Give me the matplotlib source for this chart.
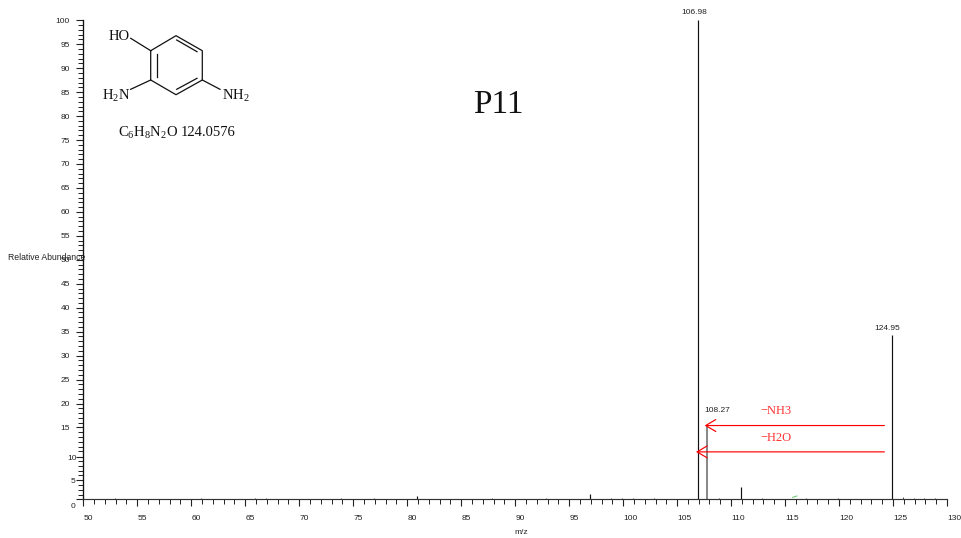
import matplotlib
matplotlib.use("Agg")
import matplotlib.pyplot as plt
from matplotlib.lines import Line2D
from matplotlib.transforms import ScaledTranslation

plt.rcParams['font.family'] = ['Liberation Sans', 'DejaVu Sans']
plt.rcParams['mathtext.fontset'] = 'custom'
plt.rcParams['mathtext.rm'] = 'Liberation Serif'

W, H = 961, 538
DPI = 100

# Peaks
mz = [106.9, 107.8, 124.88, 110.9, 96.97, 80.9]
intensity = [100, 15.5, 34.2, 2.6, 1.1, 0.7]
peak_labels = {106.9: ("106.98", -3.5, 7.5), 107.8: ("108.27", 9.5, 14.5), 124.88: ("124.95", -4.5, 6.5)}
noise_mz = [52.9, 60.9, 65.9, 66.9, 73.9, 76.9, 87.9, 92.9, 98.9, 99.9, 100.9, 102.9,
            108.9, 112.9, 116.9, 119.9, 125.9, 126.9, 127.9, 128.9]
noise_int = [0.3, 0.2, 0.3, 0.3, 0.2, 0.2, 0.2, 0.2, 0.3, 0.2, 0.3, 0.3,
             0.3, 0.2, 0.3, 0.2, 0.4, 0.3, 0.3, 0.3]
green_mz = [115.7, 116.1]
green_int = [0.4, 0.7]

# Axes ticks
x_major = list(range(50, 131, 5))
x_minor = list(range(50, 131))
y_major = [0, 4, 8.8, 15, 20, 25, 30, 35, 40, 45, 50, 55, 60, 65, 70, 75, 80, 85, 90, 95, 100]
y_labels = ['0', '5', '10', '15', '20', '25', '30', '35', '40', '45', '50', '55', '60',
            '65', '70', '75', '80', '85', '90', '95', '100']
y_minor = [v for v in range(0, 101) if min(abs(v - m) for m in y_major) > 0.5]

# Neutral-loss arrows: (label, y, start m/z, tip m/z, label m/z, label y)
losses = [("\u2212NH3", 15.4, 124.2, 107.55, 112.75, 18.4),
          ("\u2212H2O", 9.9, 124.2, 106.75, 112.75, 12.8)]

# Molecule, in reference pixels
ring = [(150.7, 50.7), (176, 35.7), (202.3, 50.7), (202.3, 80), (176, 94.7), (150.7, 80), (150.7, 50.7)]
bonds = [[(150.7, 50.7), (130.7, 38.3)], [(150.7, 80), (130.7, 89.3)], [(202.3, 80), (220, 89.3)],
         [(156.7, 54), (156.7, 77)], [(176.7, 40), (197, 51.7)], [(176.7, 89.3), (197, 78.3)]]
mol_text = [("HO", 119, 37), ("H$_2$N", 116.5, 95.5), ("NH$_2$", 236, 95.5)]
formula = "C$_6$H$_8$N$_2$O"
formula_mass = "124.0576"

fig = plt.figure(figsize=(W / DPI, H / DPI), dpi=DPI, facecolor='white')
left, right, top, bottom = 83.3, 947, 20.3, 499.3
ax = fig.add_axes([left / W, 1 - bottom / H, (right - left) / W, (bottom - top) / H])
ax.set_xlim(50, 130)
ax.set_ylim(0, 100)
for s in ('top', 'right'):
    ax.spines[s].set_visible(False)
ax.spines['left'].set_linewidth(0.95)
ax.spines['bottom'].set_linewidth(0.85)
ax.spines['left'].set_color('#111111')
ax.spines['bottom'].set_color('#333333')

ax.vlines(noise_mz, 0, noise_int, color='#333333', lw=0.6)
ax.vlines(mz[:1] + mz[2:], 0, intensity[:1] + intensity[2:], color='#111111', lw=0.85, clip_on=False)
ax.vlines(mz[1], 0, intensity[1], color='#666666', lw=1.1)
ax.plot(green_mz, green_int, color='#66c266', lw=0.7)

for m, i in zip(mz, intensity):
    if m in peak_labels:
        t, dx, dy = peak_labels[m]
        ax.annotate(t, (m, i), xytext=(dx * 0.72, dy * 0.72), textcoords='offset points',
                    ha='center', va='center', fontsize=6, color='#222222', annotation_clip=False)

for label, y, x0, x1, lx, ly in losses:
    ax.annotate('', xy=(x1, y), xytext=(x0, y),
                arrowprops=dict(arrowstyle='->,head_length=0.72,head_width=0.43', color='#ff0000',
                                lw=0.85, mutation_scale=10, shrinkA=0, shrinkB=0))
    ax.text(lx, ly, label, color='#ff3030', fontsize=9, family='Liberation Serif', ha='left', va='center')

ax.set_xticks(x_major)
ax.set_xticks([v for v in x_minor if v not in x_major], minor=True)
ax.set_yticks(y_major, y_labels)
ax.set_yticks(y_minor, minor=True)
ax.tick_params(axis='x', which='major', length=5.3, width=0.8, labelsize=6, pad=6.2, labelcolor='#222222', color='#222222')
ax.tick_params(axis='x', which='minor', length=3.4, width=0.7, color='#222222')
ax.tick_params(axis='y', which='major', length=4.8, width=0.8, labelsize=6, pad=5, labelcolor='#222222', color='#222222')
ax.tick_params(axis='y', which='minor', length=3.6, width=0.7, color='#222222')
for lab in ax.get_xticklabels():
    lab.set_ha('left')

shift = {'0': (6 / DPI, -6 / DPI), '5': (6 / DPI, 0), '10': (7 / DPI, 0)}
for lab, txt in zip(ax.get_yticklabels(), y_labels):
    if txt in shift:
        dx, dy = shift[txt]
        lab.set_transform(lab.get_transform() + ScaledTranslation(dx, dy, fig.dpi_scale_trans))


def px(x, y):
    return x / W, 1 - y / H


fig.text(*px(47, 257.5), "Relative Abundance", fontsize=6.2, ha='center', va='center', color='#222222')
fig.text(*px(521, 532), "m/z", fontsize=6, ha='center', va='center', color='#222222')
fig.text(*px(498, 105), "P11", fontsize=24, family='Liberation Serif', ha='center', va='center', color='#111111')

xs, ys = zip(*[px(*p) for p in ring])
fig.add_artist(Line2D(xs, ys, color='#111111', lw=0.9, transform=fig.transFigure))
for b in bonds:
    xs, ys = zip(*[px(*p) for p in b])
    fig.add_artist(Line2D(xs, ys, color='#111111', lw=0.9, transform=fig.transFigure))
for t, x, y in mol_text:
    fig.text(*px(x, y), t, fontsize=10.5, family='Liberation Serif', ha='center', va='center', color='#111111')
fig.text(*px(118, 132.5), formula, fontsize=10.5, family='Liberation Serif', ha='left', va='center', color='#111111')
fig.text(*px(181, 132.5), formula_mass, fontsize=10.5, family='Liberation Serif', ha='left', va='center', color='#111111')

fig.savefig('out.png', dpi=DPI)
